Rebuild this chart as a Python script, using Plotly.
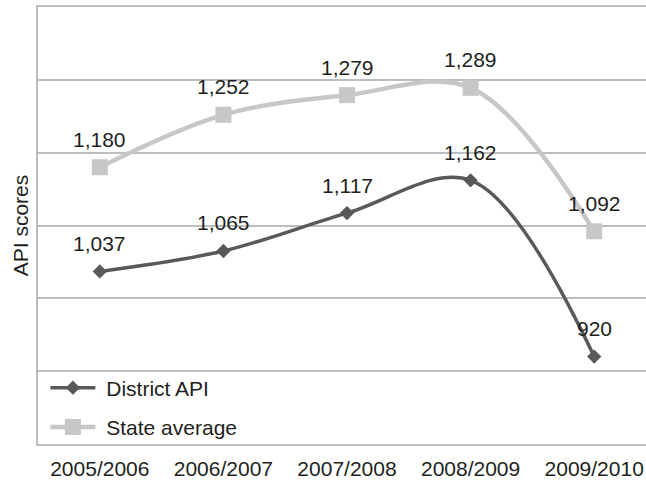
import plotly.graph_objects as go

# School years on the category axis
years = ["2005/2006", "2006/2007", "2007/2008", "2008/2009", "2009/2010"]

# API scores per series
district_api = [1037, 1065, 1117, 1162, 920]
state_average = [1180, 1252, 1279, 1289, 1092]

FONT = "Liberation Sans, Arial, Helvetica, sans-serif"
TEXT_COLOR = "#231f20"
DISTRICT_COLOR = "#58595b"
STATE_COLOR = "#c6c7c8"
GRID_COLOR = "#bcbdbf"
FS = 21

fig = go.Figure()

fig.add_trace(go.Scatter(
    x=years, y=district_api, name="\u00a0District API",
    mode="lines+markers",
    line=dict(color=DISTRICT_COLOR, width=3.5, shape="spline", smoothing=1),
    marker=dict(symbol="diamond", size=11, color=DISTRICT_COLOR),
    legendgroup="district",
))
fig.add_trace(go.Scatter(
    x=years, y=state_average, name="\u00a0State average",
    mode="lines+markers",
    line=dict(color=STATE_COLOR, width=4.5, shape="spline", smoothing=1),
    marker=dict(symbol="square", size=16, color=STATE_COLOR),
    legendgroup="state",
))

# Value labels above each point
annotations = []
for series in (district_api, state_average):
    for x, v in zip(years, series):
        annotations.append(dict(
            x=x, y=v, xref="x", yref="y",
            text=f"{v:,}", showarrow=False, yshift=28,
            font=dict(family=FONT, size=FS, color=TEXT_COLOR),
        ))

# The chart is laid out a little wider than the page; the right end of the
# plot area runs past the visible edge.
fig.update_layout(
    width=656, height=483,
    margin=dict(l=38, r=0, t=7, b=39, autoexpand=False),
    paper_bgcolor="white", plot_bgcolor="white",
    font=dict(family=FONT, size=FS, color=TEXT_COLOR),
    showlegend=True,
    legend=dict(
        x=0.012, y=-0.008, xanchor="left", yanchor="bottom",
        bgcolor="rgba(0,0,0,0)", borderwidth=0,
        itemwidth=45, tracegroupgap=9,
        font=dict(family=FONT, size=FS, color=TEXT_COLOR),
    ),
    annotations=annotations,
)

fig.update_xaxes(
    type="category", range=[-0.5, 4.5], automargin=False,
    showgrid=False, showline=True, linecolor=GRID_COLOR, linewidth=1.5,
    mirror=True, ticks="outside", ticklen=5, tickcolor="rgba(0,0,0,0)",
    tickfont=dict(family=FONT, size=FS, color=TEXT_COLOR),
)
fig.update_yaxes(
    range=[800, 1400], dtick=100, showticklabels=False,
    showgrid=True, gridcolor=GRID_COLOR, gridwidth=1.5,
    zeroline=False, showline=True, linecolor=GRID_COLOR, linewidth=1.5,
    ticks="",
    title=dict(text="API scores", standoff=2,
               font=dict(family=FONT, size=FS, color=TEXT_COLOR)),
    automargin=False,
)

fig.write_html(
    "out.html",
    post_script=(
        "document.documentElement.style.overflow='hidden';"
        "document.body.style.overflow='hidden';"
        "document.body.style.margin='0';"
    ),
)
